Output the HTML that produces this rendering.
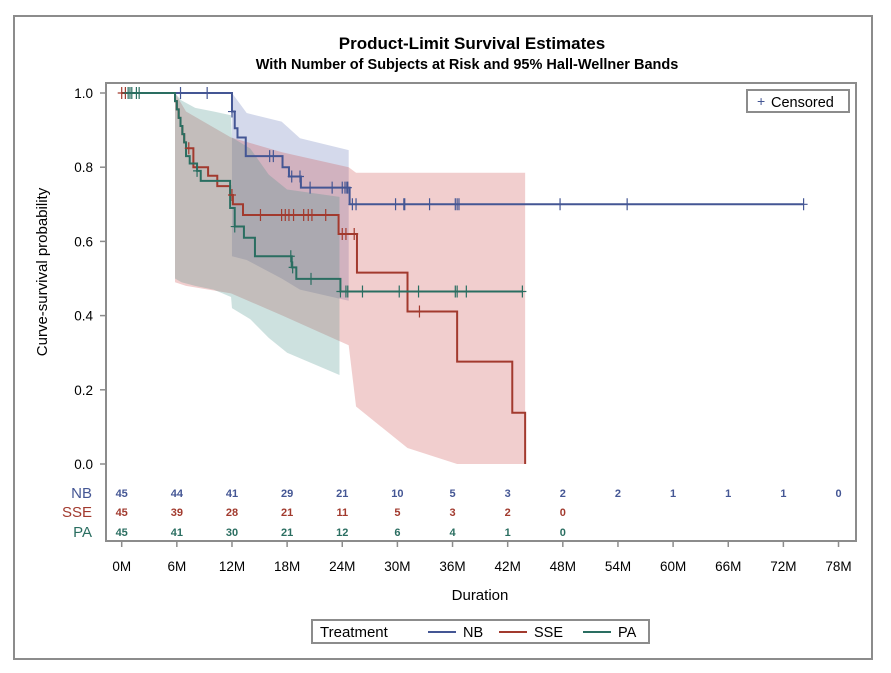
<!DOCTYPE html>
<html><head><meta charset="utf-8"><style>
body{margin:0;background:#fff;}
svg{display:block;font-family:"Liberation Sans",Arial,sans-serif;}
</style></head><body>
<svg id="chart" width="891" height="673" viewBox="0 0 891 673" xmlns="http://www.w3.org/2000/svg">
<rect x="14" y="16" width="858" height="643" fill="#fff" stroke="#8c8c8c" stroke-width="2"/>
<text x="472" y="49" text-anchor="middle" font-size="17" font-weight="bold">Product-Limit Survival Estimates</text>
<text x="467" y="69" text-anchor="middle" font-size="14.5" font-weight="bold">With Number of Subjects at Risk and 95% Hall-Wellner Bands</text>
<g id="bands"></g><g id="lines"></g><g id="cens"></g><g id="axes"></g>
<rect x="106" y="83" width="750" height="458" fill="none" stroke="#8c8c8c" stroke-width="2"/>
<text transform="translate(47,272) rotate(-90)" text-anchor="middle" font-size="15">Curve-survival probability</text>
<text x="480" y="600" text-anchor="middle" font-size="15">Duration</text>
<g>
<rect x="747" y="90" width="102" height="22" fill="#fff" stroke="#8c8c8c" stroke-width="2"/>
<text x="757" y="106" font-size="14" fill="#445694">+</text>
<text x="771" y="107" font-size="14.5">Censored</text>
</g>
<g>
<rect x="312" y="620" width="337" height="23" fill="#fff" stroke="#8c8c8c" stroke-width="2"/>
<text x="320" y="637" font-size="15">Treatment</text>
<g><line x1="428" y1="632" x2="456" y2="632" stroke="#445694" stroke-width="2"/><text x="463" y="637" font-size="14.5">NB</text></g>
<g><line x1="499" y1="632" x2="527" y2="632" stroke="#a23a2e" stroke-width="2"/><text x="534" y="637" font-size="14.5">SSE</text></g>
<g><line x1="583" y1="632" x2="611" y2="632" stroke="#2a6e61" stroke-width="2"/><text x="618" y="637" font-size="14.5">PA</text></g>
</g>
</svg>
<script>
const xTicks=[0,6,12,18,24,30,36,42,48,54,60,66,72,78];
const yTicks=[0,0.2,0.4,0.6,0.8,1.0];
const groups=['NB','SSE','PA'];
const colors=['#445694','#a23a2e','#2a6e61'];
const bandColors=['rgba(95,115,180,0.27)','rgba(205,75,75,0.27)','rgba(70,145,135,0.27)'];
// step curves: times of drops and survival after each
const nbT=[0,12.0,12.3,12.6,13.5,17.5,18.2,19.5,24.8];
const nbS=[1,0.95,0.905,0.88,0.83,0.80,0.775,0.745,0.70];
const nbEnd=74.2;
const sseT=[0,5.8,6.0,6.2,6.4,6.6,6.8,7.0,7.8,9.4,10.4,11.8,12.1,13.2,23.6,25.6,31.1,36.5,42.5,43.9];
const sseS=[1,0.978,0.956,0.933,0.911,0.889,0.867,0.851,0.80,0.777,0.749,0.725,0.70,0.671,0.62,0.516,0.411,0.276,0.138,0];
const sseEnd=43.9;
const paT=[0,5.8,6.0,6.2,6.4,6.6,6.8,7.0,7.4,8.2,8.6,11.8,12.3,13.3,14.5,18.5,19.0,23.8];
const paS=[1,0.978,0.956,0.933,0.911,0.889,0.867,0.83,0.81,0.79,0.763,0.69,0.64,0.61,0.56,0.53,0.499,0.465];
const paEnd=43.6;
const nbCens=[6.4,9.3,12.0,16.1,16.5,18.5,19.4,20.5,22.9,24.0,24.3,24.5,24.6,25.1,25.5,29.8,30.7,30.8,33.5,36.3,36.5,36.7,47.7,55.0,74.2];
const sseCens=[0,0.4,7.3,12.0,15.1,17.4,17.8,18.2,18.7,19.8,20.3,20.7,22.2,24.0,24.4,25.3,32.4];
const paCens=[0.7,0.9,1.1,1.6,1.9,8.2,12.3,18.4,18.6,20.6,23.8,24.4,24.6,26.2,30.2,32.3,36.3,36.5,37.5,43.6];
// Hall-Wellner bands
const nbBandT=[12.0,13.6,17.4,19.4,24.7];
const nbUp=[1.0,0.946,0.923,0.878,0.846];
const nbLo=[0.56,0.55,0.50,0.47,0.44];
const sseBandT=[5.8,7.0,11.9,17.5,24.7,25.5,31.1,36.5,43.9];
const sseUp=[1.0,0.95,0.88,0.84,0.80,0.785,0.785,0.785,0.785];
const sseLo=[0.49,0.48,0.46,0.40,0.32,0.155,0.043,0,0];
const paBandT=[5.8,6.5,8,10,11.9,12.0,14,16,18,23.7];
const paUp=[1.0,0.98,0.96,0.95,0.94,0.88,0.85,0.78,0.74,0.72];
const paLo=[0.5,0.49,0.48,0.47,0.45,0.42,0.39,0.34,0.30,0.24];
const riskNB=[45,44,41,29,21,10,5,3,2,2,1,1,1,0];
const riskSSE=[45,39,28,21,11,5,3,2,0];
const riskPA=[45,41,30,21,12,6,4,1,0];

const X=t=>121.7+t*9.19;
const Y=s=>93+(1-s)*371;
const NS='http://www.w3.org/2000/svg';
function mk(tag,attrs,parent){const e=document.createElementNS(NS,tag);for(const k in attrs)e.setAttribute(k,attrs[k]);parent.appendChild(e);return e;}
const gB=document.getElementById('bands'),gL=document.getElementById('lines'),gC=document.getElementById('cens'),gA=document.getElementById('axes');

function bandPath(T,U,L){
  let d='M'+X(T[0])+','+Y(U[0]);
  for(let i=1;i<T.length;i++)d+=' L'+X(T[i])+','+Y(U[i]);
  for(let i=T.length-1;i>=0;i--)d+=' L'+X(T[i])+','+Y(L[i]);
  return d+'Z';
}
const bandsData=[[nbBandT,nbUp,nbLo],[sseBandT,sseUp,sseLo],[paBandT,paUp,paLo]];
bandsData.forEach((b,i)=>{
  const p=mk('path',{d:bandPath(b[0],b[1],b[2]),fill:bandColors[i]},gB);
  
  
});
function stepPath(T,S,end){
  let d='M'+X(T[0])+','+Y(S[0]);
  for(let i=1;i<T.length;i++){d+=' H'+X(T[i])+' V'+Y(S[i]);}
  d+=' H'+X(end);return d;
}
function survAt(T,S,t){let s=S[0];for(let i=0;i<T.length;i++)if(T[i]<=t)s=S[i];return s;}
const curves=[[nbT,nbS,nbEnd,nbCens],[sseT,sseS,sseEnd,sseCens],[paT,paS,paEnd,paCens]];
curves.forEach((c,i)=>{
  const p=mk('path',{d:stepPath(c[0],c[1],c[2]),fill:'none',stroke:colors[i],'stroke-width':2},gL);
  
  
  c[3].forEach(t=>{
    const x=X(t),y=Y(survAt(c[0],c[1],t));
    const m=mk('path',{d:`M${x-4},${y} H${x+4} M${x},${y-6} V${y+6}`,stroke:colors[i],'stroke-width':1.2},gC);
    
    
  });
});
yTicks.forEach(v=>{
  const l=mk('line',{x1:100,x2:106,y1:Y(v),y2:Y(v),stroke:'#8c8c8c','stroke-width':1.5},gA);
  
  
  const t=mk('text',{x:93,y:Y(v)+5,'text-anchor':'end','font-size':13.5},gA);
  t.textContent=v.toFixed(1);
  
  
});
xTicks.forEach(v=>{
  const l=mk('line',{x1:X(v),x2:X(v),y1:541,y2:547,stroke:'#8c8c8c','stroke-width':1.5},gA);
  
  
  const t=mk('text',{x:X(v),y:571,'text-anchor':'middle','font-size':13.5},gA);
  t.textContent=v+'M';
  
  
});
const risks=[riskNB,riskSSE,riskPA],rowY=[497,516,536];
risks.forEach((r,i)=>{
  const lab=mk('text',{x:92,y:rowY[i]+1,'text-anchor':'end','font-size':15,fill:colors[i]},gA);
  lab.textContent=groups[i];
  
  
  r.forEach((n,j)=>{
    const t=mk('text',{x:X(xTicks[j]),y:rowY[i],'text-anchor':'middle','font-size':11,'font-weight':'bold',fill:colors[i]},gA);
    t.textContent=n;
    
    
  });
});
</script>
</body></html>
